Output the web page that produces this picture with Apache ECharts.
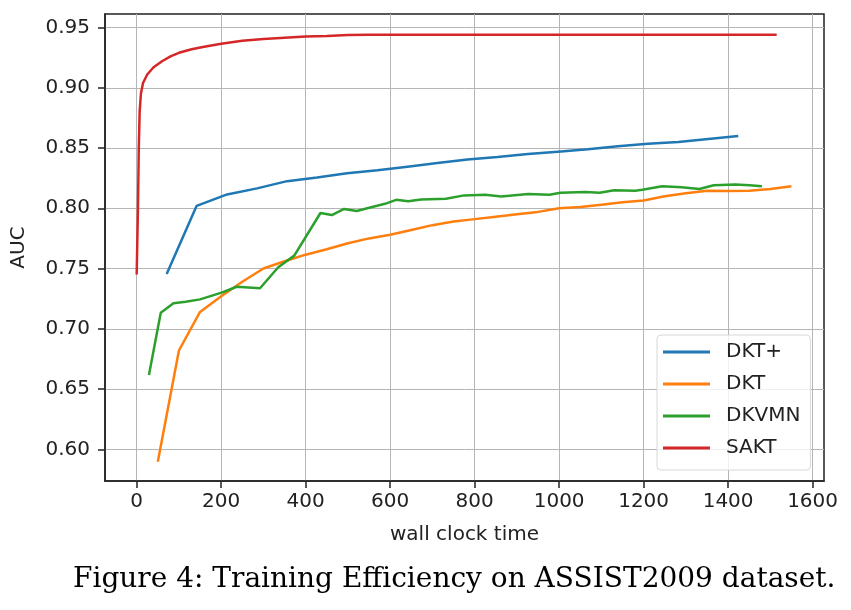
<!DOCTYPE html>
<html>
<head>
<meta charset="utf-8">
<script src="https://cdn.jsdelivr.net/npm/echarts@6/dist/echarts.min.js"></script>
<style>html,body{margin:0;padding:0;background:#fff}#c{width:851px;height:610px}</style>
</head>
<body>
<div id="c"></div>
<script>
const xTicks = [0, 200, 400, 600, 800, 1000, 1200, 1400, 1600];
const yTicks = [0.60, 0.65, 0.70, 0.75, 0.80, 0.85, 0.90, 0.95];

const dktPlusTime = [71, 142, 214, 285, 356, 427, 498, 570, 641, 712, 783, 854, 926, 997, 1068, 1139, 1210, 1282, 1353, 1424];
const dktPlusAuc  = [0.7455, 0.802, 0.8115, 0.8165, 0.8225, 0.8255, 0.829, 0.8315, 0.8345, 0.8375, 0.8405, 0.8425, 0.845, 0.847, 0.849, 0.8515, 0.8535, 0.855, 0.8575, 0.860];

const dktTime = [50, 100, 150, 200, 250, 300, 350, 400, 450, 500, 550, 600, 650, 700, 750, 800, 850, 900, 950, 1000, 1050, 1100, 1150, 1200, 1250, 1300, 1350, 1400, 1450, 1500, 1550];
const dktAuc  = [0.5897, 0.682, 0.714, 0.727, 0.739, 0.750, 0.756, 0.7615, 0.766, 0.771, 0.775, 0.778, 0.782, 0.786, 0.789, 0.791, 0.793, 0.795, 0.797, 0.800, 0.801, 0.803, 0.805, 0.8065, 0.810, 0.8125, 0.8145, 0.8143, 0.8146, 0.816, 0.8183];

const dkvmnTime = [29, 57, 87, 116, 150, 201, 237, 292, 335, 373, 435, 462, 491, 521, 555, 588, 614, 643, 673, 732, 775, 825, 863, 927, 977, 1003, 1062, 1096, 1130, 1180, 1197, 1244, 1290, 1332, 1366, 1417, 1451, 1480];
const dkvmnAuc  = [0.6616, 0.7133, 0.7211, 0.7225, 0.7244, 0.730, 0.7349, 0.7336, 0.7511, 0.7607, 0.7961, 0.7944, 0.7994, 0.7978, 0.8008, 0.8037, 0.807, 0.8059, 0.8073, 0.8079, 0.8107, 0.8112, 0.8098, 0.8118, 0.8112, 0.8129, 0.8135, 0.8129, 0.8149, 0.8146, 0.8154, 0.8183, 0.8174, 0.816, 0.8191, 0.8197, 0.8191, 0.8183];

const saktTime = [0, 3, 5, 7, 10, 15, 25, 40, 60, 80, 100, 130, 160, 200, 250, 300, 350, 400, 450, 500, 550, 600, 700, 800, 900, 1000, 1100, 1200, 1300, 1400, 1515];
const saktAuc  = [0.745, 0.80, 0.85, 0.88, 0.895, 0.904, 0.911, 0.917, 0.922, 0.926, 0.929, 0.932, 0.934, 0.9365, 0.939, 0.9405, 0.9415, 0.9425, 0.943, 0.9438, 0.944, 0.944, 0.944, 0.944, 0.944, 0.944, 0.944, 0.944, 0.944, 0.944, 0.944];

const seriesNames = ['DKT+', 'DKT', 'DKVMN', 'SAKT'];
const colors = ['#1f77b4', '#ff7f0e', '#2ca02c', '#d62728'];

function pairs(t, v) { return t.map((x, i) => [x, v[i]]); }
const allData = [pairs(dktPlusTime, dktPlusAuc), pairs(dktTime, dktAuc), pairs(dkvmnTime, dkvmnAuc), pairs(saktTime, saktAuc)];

const chart = echarts.init(document.getElementById('c'), null, {renderer: 'canvas'});
const font = 'DejaVu Sans';
chart.setOption({
  backgroundColor: '#fff',
  animation: false,
  title: {
    text: 'Figure 4: Training Efficiency on ASSIST2009 dataset.',
    left: 73, top: 566, padding: 0,
    textStyle: {fontFamily: 'DejaVu Serif', fontSize: 28, fontWeight: 'normal', color: '#000'}
  },
  grid: {left: 105, right: 27, top: 14, bottom: 129, show: true, borderColor: '#222', borderWidth: 1.5, backgroundColor: '#fff'},
  legend: {
    orient: 'vertical', left: 657, top: 335,
    data: seriesNames,
    icon: 'rect',
    itemWidth: 47, itemHeight: 3, itemGap: 12,
    padding: [7, 10, 12, 6],
    borderColor: '#d8d8d8', borderWidth: 1, borderRadius: 4,
    backgroundColor: 'rgba(255,255,255,0.8)',
    textStyle: {fontFamily: font, fontSize: 20, color: '#222', padding: [0, 0, 0, 11], lineHeight: 20, height: 20}
  },
  xAxis: {
    type: 'value', min: -75, max: 1627,
    name: 'wall clock time', nameLocation: 'middle', nameGap: 44,
    nameTextStyle: {fontFamily: font, fontSize: 20, color: '#222'},
    axisLine: {show: true, onZero: false, lineStyle: {color: '#222', width: 1.5}},
    axisTick: {show: true, length: 7, customValues: xTicks, lineStyle: {color: '#222', width: 1.5}},
    axisLabel: {customValues: xTicks, margin: 11, fontFamily: font, fontSize: 20, color: '#222',
      formatter: v => String(v)},
    splitLine: {show: true, lineStyle: {color: '#b5b5b5', width: 1}}
  },
  yAxis: {
    type: 'value', min: 0.5737, max: 0.9612,
    name: 'AUC', nameLocation: 'middle', nameGap: 76,
    nameTextStyle: {fontFamily: font, fontSize: 20, color: '#222'},
    axisLine: {show: true, onZero: false, lineStyle: {color: '#222', width: 1.5}},
    axisTick: {show: true, length: 7, customValues: yTicks, lineStyle: {color: '#222', width: 1.5}},
    axisLabel: {customValues: yTicks, margin: 15, fontFamily: font, fontSize: 20, color: '#222',
      formatter: v => v.toFixed(2)},
    splitLine: {show: true, lineStyle: {color: '#b5b5b5', width: 1}}
  },
  series: seriesNames.map((n, i) => ({
    name: n, type: 'line', data: allData[i],
    symbol: 'none', showSymbol: false,
    lineStyle: {color: colors[i], width: 2.5}, itemStyle: {color: colors[i]},
    z: 2 + i
  }))
});
</script>
</body>
</html>
